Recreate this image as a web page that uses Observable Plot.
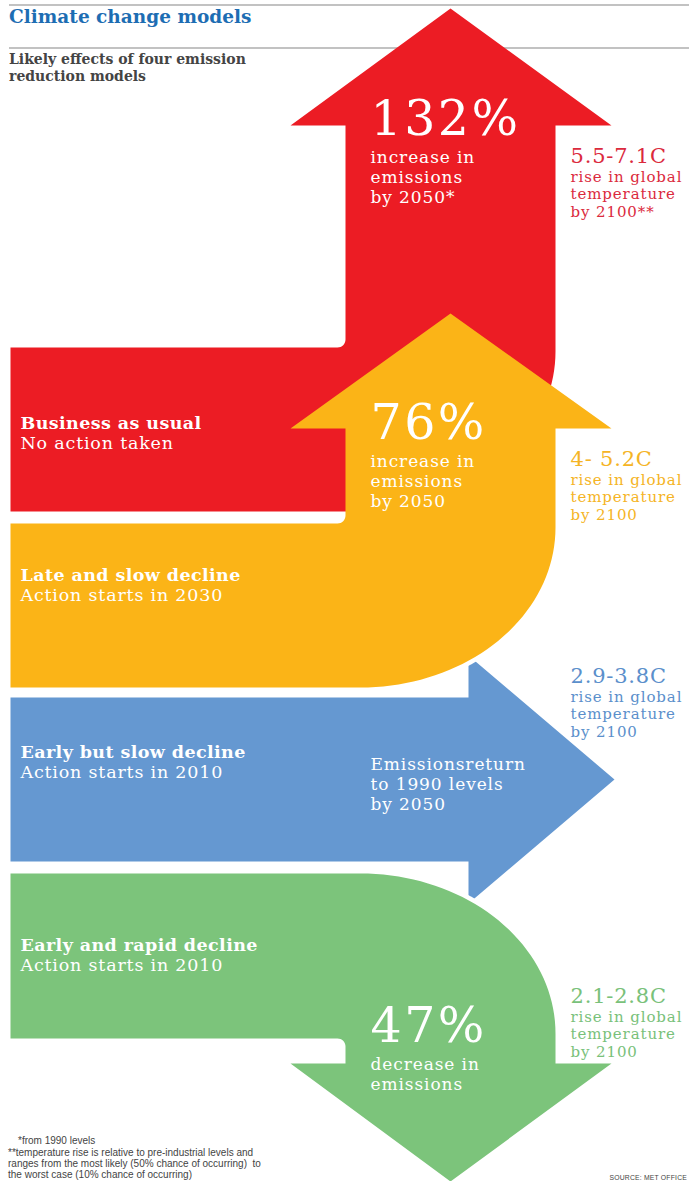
<!DOCTYPE html>
<html>
<head>
<meta charset="utf-8">
<script src="https://cdn.jsdelivr.net/npm/d3@7"></script>
<script src="https://cdn.jsdelivr.net/npm/@observablehq/plot@0.6"></script>
<style>
  html, body { margin: 0; padding: 0; background: #fff; overflow: hidden; }
  #wrap { position: relative; width: 689px; height: 1181px; overflow: hidden; }
  .rule { position: absolute; left: 9px; right: 0; background: #c2c2c2; }
  #title { position: absolute; left: 9px; top: 6px; margin: 0; font: bold 18.5px/21px "DejaVu Serif", serif; color: #1d6db3; white-space: nowrap; }
  #subtitle { position: absolute; left: 9px; top: 51px; margin: 0; font: bold 14px/16.5px "DejaVu Serif", serif; color: #444; white-space: nowrap; }
  #chart { position: absolute; left: 0; top: 0; }
  .note { position: absolute; margin: 0; font-family: "Liberation Sans Narrow", "Liberation Sans", sans-serif; font-size: 10px; line-height: 11px; color: #444; white-space: nowrap; }
  .source { font-size: 6.8px; letter-spacing: 0.2px; }
  g[aria-description="names"] text { letter-spacing: 0.4px; }
  g[aria-description="actions"] text { letter-spacing: 0.8px; }
  g[aria-description="bigs"] text { letter-spacing: 2.5px; }
  g[aria-description="notes"] text { letter-spacing: 0.9px; }
  g[aria-description="temps"] text { letter-spacing: 0.8px; }
  g[aria-description="tempnotes"] text { letter-spacing: 0.9px; }
</style>
</head>
<body>
<div id="wrap">
  <div class="rule" style="top:4px;height:2px"></div>
  <h1 id="title">Climate change models</h1>
  <div class="rule" style="top:47px;height:2px"></div>
  <p id="subtitle">Likely effects of four emission<br>reduction models</p>
  <div id="chart"></div>
  <p class="note" style="left:18px;top:1135px">*from 1990 levels</p>
  <p class="note" style="left:8px;top:1147px">**temperature rise is relative to pre-industrial levels and<br>ranges from the most likely (50% chance of occurring)&nbsp; to<br>the worst case (10% chance of occurring)</p>
  <p class="note source" style="right:2px;top:1172px">SOURCE: MET OFFICE</p>
</div>
<script>
// ---------------- data ----------------
const scenarioNames = ["Business as usual", "Late and slow decline", "Early but slow decline", "Early and rapid decline"];
const scenarioActions = ["No action taken", "Action starts in 2030", "Action starts in 2010", "Action starts in 2010"];
const emissionChange2050 = [132, 76, 0, -47]; // % change vs 1990 levels
const emissionNotes = [
  ["increase in", "emissions", "by 2050*"],
  ["increase in", "emissions", "by 2050"],
  ["Emissionsreturn", "to 1990 levels", "by 2050"],
  ["decrease in", "emissions"]
];
const tempRangeLabels = ["5.5-7.1C", "4- 5.2C", "2.9-3.8C", "2.1-2.8C"];
const tempNotes = [
  ["rise in global", "temperature", "by 2100**"],
  ["rise in global", "temperature", "by 2100"],
  ["rise in global", "temperature", "by 2100"],
  ["rise in global", "temperature", "by 2100"]
];
const arrowDirections = ["up", "up", "right", "down"];

// ---------------- styles ----------------
const fillColors = ["#ec1c24", "#fbb417", "#6598d1", "#7cc47b"];
const textColors = ["#db2a3d", "#f5b425", "#5b8fcb", "#79c17a"];
const serif = "DejaVu Serif";
const sizes = {name: 17.5, action: 17.5, big: 49, note: 17, temp: 21, tempNote: 15};

// ---------------- layout ----------------
const W = 689, H = 1181;
const layout = {
  bandLeft: 10,
  bands: [[347, 511], [523, 687], [697, 861], [873, 1038]],
  shaft: [345, 555],
  head: [290, 611],
  headMid: 450,
  upHeads: [[8, 125], [313, 428]],
  rightHead: {x: 468, top: 655, bottom: 903, tip: 614},
  downHead: {base: 1063, tip: 1181},
  curve: {rx: 195, ry: 160},
  fillet: 8,
  labelX: 20, labelY: [428, 580, 757, 950], actionGap: 20.5,
  noteX: 370, bigY: [134, 438, 741, 1041], noteFirst: 28, noteGap: 20,
  tempX: 570, tempY: [162, 465, 682, 1002], tempFirst: 19, tempGap: 17.5
};

function arc(cx, cy, rx, ry, a0, a1, n = 40) {
  return d3.range(n + 1).map(k => {
    const t = (a0 + (a1 - a0) * k / n) * Math.PI / 180;
    return [cx + rx * Math.cos(t), cy + ry * Math.sin(t)];
  });
}

function upArrow(i) {
  const [top, bottom] = layout.bands[i];
  const [tip, base] = layout.upHeads[i];
  const [s0, s1] = layout.shaft, [h0, h1] = layout.head;
  const {rx, ry} = layout.curve, f = layout.fillet;
  const outer = arc(s1 - rx, bottom - ry, rx, ry, 0, 90);
  const pts = [[layout.headMid, tip], [h1, base], [s1, base], ...outer,
    [layout.bandLeft, bottom], [layout.bandLeft, top],
    ...arc(s0 - f, top - f, f, f, 90, 0, 8), [s0, base], [h0, base]];
  return {pts, outer};
}
function rightArrow(i) {
  const [top, bottom] = layout.bands[i];
  const h = layout.rightHead;
  const pts = [[layout.bandLeft, top], [h.x, top], [h.x, h.top], [h.tip, (top + bottom) / 2],
    [h.x, h.bottom], [h.x, bottom], [layout.bandLeft, bottom]];
  return {pts, outer: null};
}
function downArrow(i) {
  const [top, bottom] = layout.bands[i];
  const [s0, s1] = layout.shaft, [h0, h1] = layout.head;
  const {rx, ry} = layout.curve, f = layout.fillet;
  const {base, tip} = layout.downHead;
  const outer = arc(s1 - rx, top + ry, rx, ry, -90, 0);
  const pts = [[layout.bandLeft, top], ...outer, [s1, base], [h1, base], [layout.headMid, tip],
    [h0, base], [s0, base], ...arc(s0 - f, bottom + f, f, f, 0, -90, 8), [layout.bandLeft, bottom]];
  return {pts, outer};
}
const builders = {up: upArrow, right: rightArrow, down: downArrow};
const shapes = arrowDirections.map((d, i) => builders[d](i));
const toRows = pts => pts.map(([x, y]) => ({x, y}));

function shapeMark(i) {
  return Plot.line(toRows(shapes[i].pts), {x: "x", y: "y", fill: fillColors[i], stroke: "none"});
}
function haloMark(i) {
  return Plot.line(toRows(shapes[i].outer), {x: "x", y: "y", stroke: "white", strokeWidth: 9, fill: "none"});
}

// ---------------- text rows ----------------
const nameRows = scenarioNames.map((t, i) => ({x: layout.labelX, y: layout.labelY[i], text: t, fill: "white"}));
const actionRows = scenarioActions.map((t, i) => ({x: layout.labelX, y: layout.labelY[i] + layout.actionGap, text: t, fill: "white"}));
const bigRows = emissionChange2050.flatMap((v, i) => v === 0 ? [] :
  [{x: layout.noteX, y: layout.bigY[i], text: Math.abs(v) + "%", fill: "white"}]);
const noteRows = emissionNotes.flatMap((lines, i) =>
  lines.map((t, k) => ({x: layout.noteX, y: layout.bigY[i] + layout.noteFirst + k * layout.noteGap, text: t, fill: "white"})));
const tempRows = tempRangeLabels.map((t, i) => ({x: layout.tempX, y: layout.tempY[i], text: t, fill: textColors[i]}));
const tempNoteRows = tempNotes.flatMap((lines, i) => lines.map((t, k) =>
  ({x: layout.tempX, y: layout.tempY[i] + layout.tempFirst + k * layout.tempGap, text: t, fill: textColors[i]})));

const textMark = (rows, size, weight, name) => Plot.text(rows, {
  x: "x", y: "y", text: "text", fill: "fill", textAnchor: "start", lineAnchor: "bottom",
  fontFamily: serif, fontSize: size, fontWeight: weight, ariaDescription: name
});

const chart = Plot.plot({
  width: W, height: H, margin: 0,
  x: {domain: [0, W], range: [0, W], axis: null},
  y: {domain: [0, H], range: [0, H], axis: null},
  color: {type: "identity"},
  style: {background: "transparent", overflow: "visible"},
  marks: [
    shapeMark(0),
    shapeMark(2),
    haloMark(1),
    shapeMark(1),
    haloMark(3),
    shapeMark(3),
    textMark(nameRows, sizes.name, "bold", "names"),
    textMark(actionRows, sizes.action, "normal", "actions"),
    textMark(bigRows, sizes.big, "normal", "bigs"),
    textMark(noteRows, sizes.note, "normal", "notes"),
    textMark(tempRows, sizes.temp, "normal", "temps"),
    textMark(tempNoteRows, sizes.tempNote, "normal", "tempnotes")
  ]
});
document.getElementById("chart").appendChild(chart);
</script>
</body>
</html>
